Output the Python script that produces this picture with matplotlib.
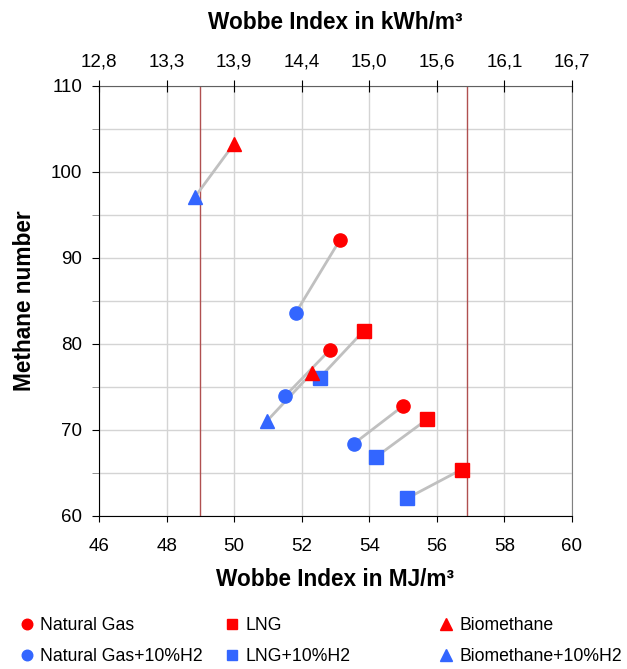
import matplotlib
matplotlib.use("Agg")
import matplotlib.pyplot as plt
import numpy as np

plt.rcParams['font.family'] = ['Liberation Sans', 'DejaVu Sans']

# Wobbe index (MJ/m³) and methane number, pure gas and with 10% H2
ng_wi = [53.13, 52.83, 55.0]
ng_mn = [92.1, 79.3, 72.8]
ng_h2_wi = [51.82, 51.52, 53.54]
ng_h2_mn = [83.6, 74.0, 68.4]

lng_wi = [53.84, 55.71, 56.73]
lng_mn = [81.55, 71.24, 65.4]
lng_h2_wi = [52.54, 54.21, 55.12]
lng_h2_mn = [76.1, 66.9, 62.06]

bio_wi = [50.0, 52.29]
bio_mn = [103.3, 76.6]
bio_h2_wi = [48.84, 50.96]
bio_h2_mn = [97.1, 71.0]

wi_limits = [49.0, 56.9]   # vertical limit lines
x_ticks = np.arange(46, 61, 2)

RED = '#ff0000'
BLUE = '#3366ff'
W, H = 627, 669

fig = plt.figure(figsize=(W / 100, H / 100), dpi=100)
ax = fig.add_axes([99 / W, 1 - 516 / H, 473 / W, 430 / H])

# grey connectors from each gas to its H2 blend
for a, b, c, d in [(ng_wi, ng_mn, ng_h2_wi, ng_h2_mn),
                   (lng_wi, lng_mn, lng_h2_wi, lng_h2_mn),
                   (bio_wi, bio_mn, bio_h2_wi, bio_h2_mn)]:
    for x0, y0, x1, y1 in zip(a, b, c, d):
        ax.plot([x0, x1], [y0, y1], color='#c0c0c0', lw=2, zorder=2)

for xv in wi_limits:
    ax.axvline(xv, color='#b05050', lw=1, zorder=1.5)

h_ng, = ax.plot(ng_wi, ng_mn, 'o', color=RED, ms=9.5, ls='none', zorder=3, label='Natural Gas')
h_ngh, = ax.plot(ng_h2_wi, ng_h2_mn, 'o', color=BLUE, ms=9.5, ls='none', zorder=3, label='Natural Gas+10%H2')
h_lng, = ax.plot(lng_wi, lng_mn, 's', color=RED, ms=9.5, ls='none', zorder=3, label='LNG')
h_lngh, = ax.plot(lng_h2_wi, lng_h2_mn, 's', color=BLUE, ms=9.5, ls='none', zorder=3, label='LNG+10%H2')
h_bio, = ax.plot(bio_wi, bio_mn, '^', color=RED, ms=10, ls='none', zorder=3, label='Biomethane')
h_bioh, = ax.plot(bio_h2_wi, bio_h2_mn, '^', color=BLUE, ms=10, ls='none', zorder=3, label='Biomethane+10%H2')

ax.set_xlim(46, 60)
ax.set_ylim(60, 110)
ax.set_xticks(x_ticks)
ax.set_yticks(np.arange(60, 111, 10))
ax.set_yticks(np.arange(65, 110, 10), minor=True)
ax.grid(True, which='both', color='#d4d4d4', lw=1, zorder=0)
ax.set_axisbelow(True)
ax.tick_params(axis='x', direction='out', length=4, labelsize=13.5, pad=12)
ax.tick_params(axis='y', which='both', direction='out', length=5, labelsize=13.5, pad=7)
ax.tick_params(axis='y', which='minor', color='#808080')
ax.spines['right'].set_color('#808080')
ax.spines['top'].set_color('#606060')
ax.set_xlabel('Wobbe Index in MJ/m³', fontsize=16.3, fontweight='bold', labelpad=9)
ax.set_ylabel('Methane number', fontsize=16.3, fontweight='bold', labelpad=11)

top = ax.twiny()
top.set_xlim(ax.get_xlim())
top.set_xticks(x_ticks)
top.set_xticklabels([f"{v / 3.6:.1f}".replace('.', ',') for v in x_ticks])
top.tick_params(axis='x', direction='inout', length=9, labelsize=13.5, pad=7)
for s in top.spines.values():
    s.set_visible(False)
top.set_xlabel('Wobbe Index in kWh/m³', fontsize=16.3, fontweight='bold', labelpad=17)

# three equal-width legend columns below the plot
columns = [(h_ng, h_ngh), (h_lng, h_lngh), (h_bio, h_bioh)]
col_x = [20, 225, 439]
for hs, x0 in zip(columns, col_x):
    fig.legend(handles=list(hs), loc='upper left', bbox_to_anchor=(x0 / W, 1 - 617 / H),
               ncol=1, frameon=False, fontsize=12.7, handlelength=0.8, handletextpad=0.35,
               labelspacing=0.8, markerscale=0.8, borderpad=0, borderaxespad=0)

fig.savefig('out.png', dpi=100)
